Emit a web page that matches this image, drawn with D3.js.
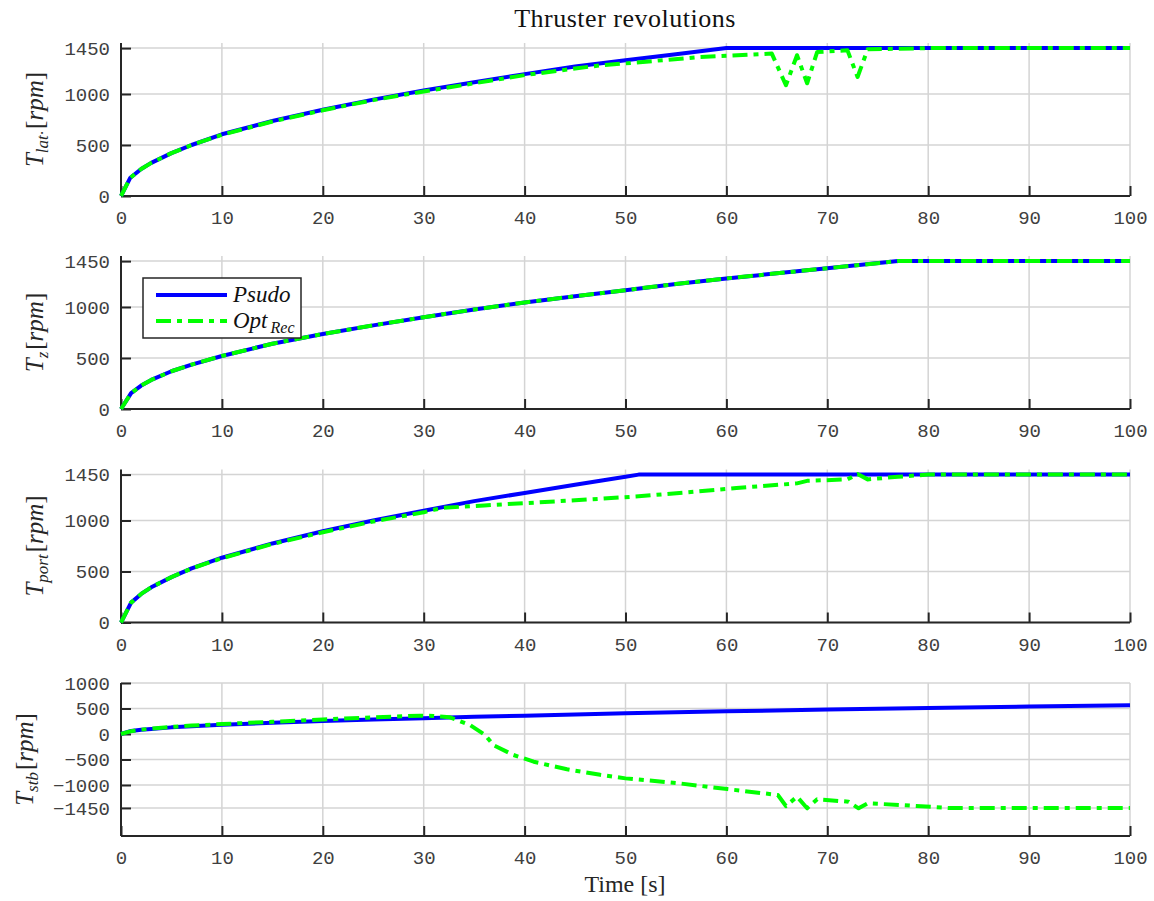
<!DOCTYPE html>
<html><head><meta charset="utf-8">
<script src="https://cdn.jsdelivr.net/npm/d3@7"></script>
<style>
body{margin:0;background:#fff;}
svg{display:block;}
</style></head>
<body>
<svg id="chart" width="1154" height="901"></svg>
<script>
// ---- data ----
const xTicks = [0,10,20,30,40,50,60,70,80,90,100];
const yTicksPos = [0,500,1000,1450];
const yTicksStb = [1000,500,0,-500,-1000,-1450];

const latPsudoT = [0,0.9,2,3,5,7,10,15,20,25,30,35,40,45,47.6,50,55,60,100];
const latPsudoV = [0,176,265,325,420,500,605,735,845,945,1035,1115,1195,1270,1301,1330,1390,1450,1450];
const latOptT = [0,0.9,2,3,5,7,10,15,20,25,30,35,40,45,47.6,50,57.4,64.5,65.9,67,68,69,72,73,74,80,100];
const latOptV = [0,176,265,325,420,500,600,730,840,940,1025,1105,1185,1250,1282,1300,1363,1396,1086,1380,1105,1412,1428,1167,1438,1450,1450];

const zPsudoT = [0,1,2,3,5,7,10,15,20,25,30,35,40,45,50,55,60,65,70,77,100];
const zPsudoV = [0,155,230,285,370,435,520,640,735,820,900,975,1045,1105,1165,1225,1280,1330,1380,1450,1450];
const zOptT = [0,1,2,3,5,7,10,15,20,25,30,35,40,45,50,55,60,65,70,77,100];
const zOptV = [0,155,230,285,370,435,520,640,735,820,900,975,1045,1105,1165,1225,1280,1330,1380,1450,1450];

const portPsudoT = [0,1,2,3,5,7,10,15,20,25,30,35,40,45,50,51.3,100];
const portPsudoV = [0,195,280,345,445,530,635,775,895,1000,1095,1190,1270,1350,1428,1450,1450];
const portOptT = [0,1,2,3,5,7,10,15,20,25,30,31,32,36,40,45,51,56,61,67,68,72,73,74,77,80,100];
const portOptV = [0,195,280,345,445,530,630,770,885,990,1080,1105,1125,1148,1170,1198,1235,1275,1318,1364,1389,1403,1455,1403,1429,1450,1450];

const stbPsudoT = [0,1,2,3,5,7,10,15,20,25,30,35,40,50,60,70,80,90,100];
const stbPsudoV = [0,60,85,100,130,150,180,220,255,285,310,340,360,405,445,480,510,540,565];
const stbOptT = [0,1,2,3,5,7,10,15,20,25,29.6,31,32.6,34.6,36.1,36.9,38.9,40.9,44.2,47.5,50,55,60.1,65.1,65.9,67,68,69,72.1,73.1,74,77.3,82,100];
const stbOptV = [0,55,85,105,140,165,195,240,285,325,360,355,327,176,-20,-216,-412,-543,-692,-800,-870,-960,-1080,-1196,-1412,-1229,-1457,-1280,-1327,-1457,-1359,-1392,-1450,-1450];

const panels = [
  {sub:"lat\u00B7", dom:[0,1500], ticks:yTicksPos, labX:43, series:[[latPsudoT,latPsudoV],[latOptT,latOptV]]},
  {sub:"z", dom:[0,1500], ticks:yTicksPos, labX:43, series:[[zPsudoT,zPsudoV],[zOptT,zOptV]]},
  {sub:"port", dom:[0,1500], ticks:yTicksPos, labX:43, series:[[portPsudoT,portPsudoV],[portOptT,portOptV]]},
  {sub:"stb", dom:[-2000,1000], ticks:yTicksStb, labX:33, series:[[stbPsudoT,stbPsudoV],[stbOptT,stbOptV]]}
];

// ---- layout ----
const svg = d3.select("#chart");
const left = 121, right = 1130;
const tops = [43,256,469.5,683], ph = 153;
const x = d3.scaleLinear().domain([0,100]).range([left,right]);
const tickFont = "'Liberation Mono', 'DejaVu Sans Mono', monospace";
const serif = "'Liberation Serif', 'DejaVu Serif', serif";
const styles = [{color:"#0000ff", dash:null},{color:"#00ff00", dash:"15,6,5,6"}];

panels.forEach((p,i)=>{
  const top = tops[i], bottom = top+ph;
  const y = d3.scaleLinear().domain(p.dom).range([bottom, top]);
  const g = svg.append("g");
  // grid
  g.selectAll(".gx").data(xTicks).join("line")
    .attr("x1",d=>x(d)).attr("x2",d=>x(d)).attr("y1",top).attr("y2",bottom)
    .attr("stroke","#d4d4d4").attr("stroke-width",1.5);
  g.selectAll(".gy").data(p.ticks).join("line")
    .attr("x1",left).attr("x2",right).attr("y1",d=>y(d)).attr("y2",d=>y(d))
    .attr("stroke","#d4d4d4").attr("stroke-width",1.5);
  // axes
  const fmt = d3.format("d");
  const ay = g.append("g").attr("transform",`translate(${left},0)`)
    .call(d3.axisLeft(y).tickValues(p.ticks).tickFormat(fmt).tickSizeInner(-10).tickSizeOuter(0).tickPadding(11));
  const ax = g.append("g").attr("transform",`translate(0,${bottom})`)
    .call(d3.axisBottom(x).tickValues(xTicks).tickFormat(fmt).tickSizeInner(-10).tickSizeOuter(0).tickPadding(15));
  [ax,ay].forEach(a=>{
    a.select(".domain").attr("stroke","#262626").attr("stroke-width",2);
    a.selectAll(".tick line").attr("stroke","#262626").attr("stroke-width",2);
    a.selectAll(".tick text").attr("font-family",tickFont).attr("font-size",19).attr("fill","#404040");
  });
  ay.select(".domain").attr("d",`M0,${top}V${bottom}`);
  ax.select(".domain").attr("d",`M${left},0H${right}`);
  // lines
  p.series.forEach((s,k)=>{
    const pts = s[0].map((t,j)=>[t,s[1][j]]);
    const line = d3.line().x(d=>x(d[0])).y(d=>y(d[1]));
    g.append("path").attr("d",line(pts)).attr("fill","none")
      .attr("stroke",styles[k].color).attr("stroke-width",4)
      .attr("stroke-linejoin","round")
      .attr("stroke-dasharray",styles[k].dash);
  });
  // y label
  const cy = (top+bottom)/2;
  const lab = svg.append("text").attr("transform",`translate(${p.labX},${cy}) rotate(-90)`)
    .attr("text-anchor","middle").attr("font-family",serif).attr("font-size",25).attr("fill","#262626");
  lab.append("tspan").attr("font-style","italic").text("T");
  lab.append("tspan").attr("font-style","italic").attr("font-size",17).attr("dy",5).text(p.sub);
  lab.append("tspan").attr("dy",-5).attr("dx",2).text("[");
  lab.append("tspan").attr("font-style","italic").text("rpm");
  lab.append("tspan").text("]");
});

// title
svg.append("text").attr("x",625).attr("y",27).attr("text-anchor","middle")
  .attr("font-family",serif).attr("font-size",26).attr("letter-spacing",0.5).attr("fill","#111").text("Thruster revolutions");
// x label
svg.append("text").attr("x",625).attr("y",892).attr("text-anchor","middle")
  .attr("font-family",serif).attr("font-size",24).attr("fill","#262626").text("Time [s]");

// legend
const lg = svg.append("g");
lg.append("rect").attr("x",143).attr("y",278).attr("width",158).attr("height",60)
  .attr("fill","#fff").attr("stroke","#262626").attr("stroke-width",1.5);
const legItems = [{main:"Psudo", sub:""},{main:"Opt", sub:"Rec"}];
legItems.forEach((it,k)=>{
  const yy = 295 + k*26;
  lg.append("line").attr("x1",156).attr("x2",227).attr("y1",yy).attr("y2",yy)
    .attr("stroke",styles[k].color).attr("stroke-width",4).attr("stroke-dasharray",styles[k].dash);
  const t = lg.append("text").attr("x",233).attr("y",yy+7).attr("font-family",serif)
    .attr("font-size",23).attr("font-style","italic").attr("fill","#111");
  t.append("tspan").text(it.main);
  if(it.sub) t.append("tspan").attr("font-size",16).attr("dy",5).attr("dx",3).text(it.sub);
});
</script>
</body></html>
